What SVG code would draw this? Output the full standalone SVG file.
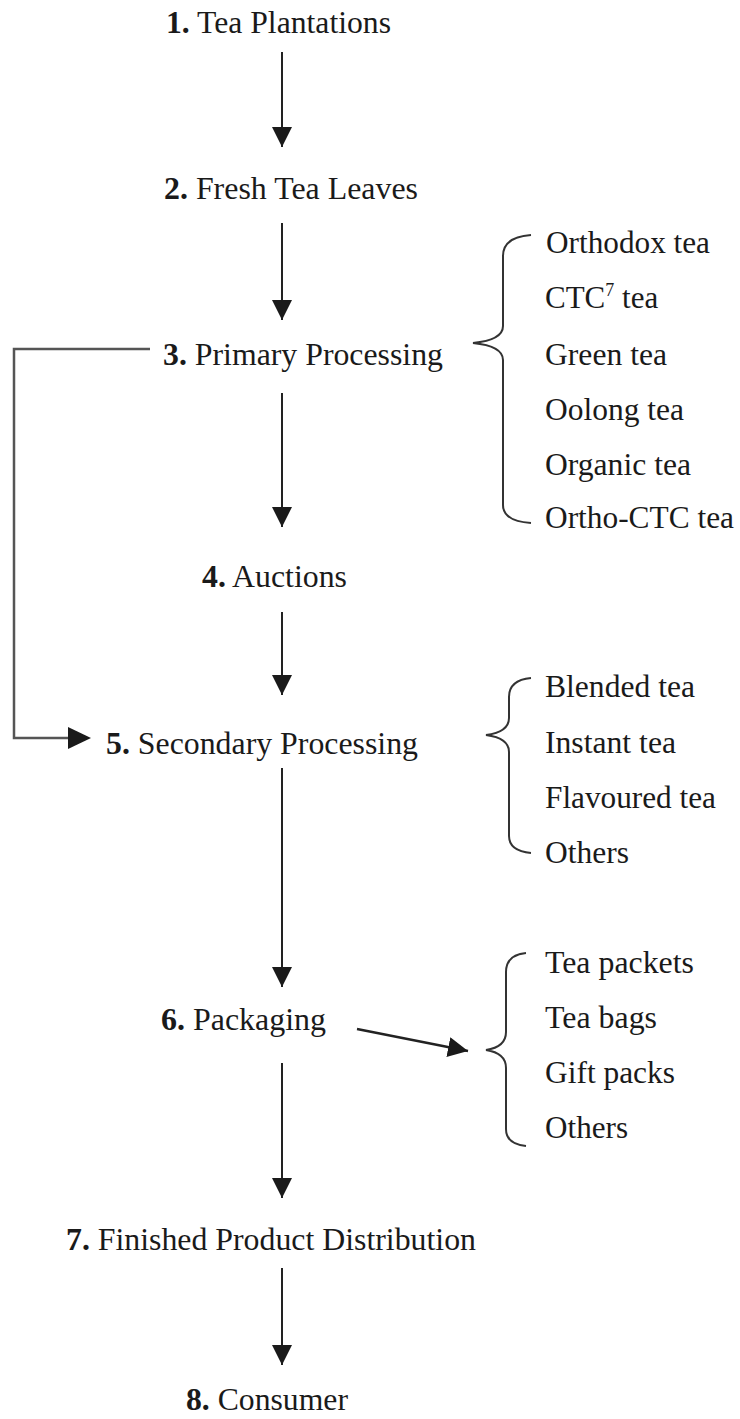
<svg xmlns="http://www.w3.org/2000/svg" width="740" height="1419" viewBox="0 0 740 1419">
<style>
text{font-family:"Liberation Serif","Times New Roman",serif;font-size:31px;fill:#1a1a1a}
.b{font-weight:bold}
.ln{stroke:#222;stroke-width:2;fill:none}
.br{stroke:#333;stroke-width:2;fill:none}
.fb{stroke:#555;stroke-width:2.5;fill:none}
</style>
<defs>
<marker id="ah" viewBox="0 0 20 20" refX="20" refY="10" markerWidth="20" markerHeight="20" markerUnits="userSpaceOnUse" orient="auto">
<path d="M0,0 L20,10 L0,20 Z" fill="#1a1a1a"/>
</marker>
</defs>
<rect width="740" height="1419" fill="#ffffff"/>
<g id="connectors">
<line class="ln" x1="282" y1="52" x2="282" y2="147" marker-end="url(#ah)"/>
<line class="ln" x1="282" y1="223" x2="282" y2="320" marker-end="url(#ah)"/>
<line class="ln" x1="282" y1="393" x2="282" y2="527" marker-end="url(#ah)"/>
<line class="ln" x1="282" y1="612" x2="282" y2="695" marker-end="url(#ah)"/>
<line class="ln" x1="282" y1="768" x2="282" y2="987" marker-end="url(#ah)"/>
<line class="ln" x1="282" y1="1063" x2="282" y2="1198" marker-end="url(#ah)"/>
<line class="ln" x1="282" y1="1268" x2="282" y2="1365" marker-end="url(#ah)"/>
<path class="fb" d="M150,349 L14,349 L14,738 L70,738"/>
<path d="M68,727 L91,738 L68,749 Z" fill="#1a1a1a"/>
<line class="ln" style="stroke-width:2.5" x1="357" y1="1029" x2="468" y2="1051" marker-end="url(#ah)"/>
</g>
<g id="n1"><text x="166" y="33" textLength="225" lengthAdjust="spacingAndGlyphs"><tspan class="b">1.</tspan> Tea Plantations</text></g>
<g id="n2"><text x="164" y="199" textLength="254" lengthAdjust="spacingAndGlyphs"><tspan class="b">2.</tspan> Fresh Tea Leaves</text></g>
<g id="n3"><text x="163" y="365" textLength="280" lengthAdjust="spacingAndGlyphs"><tspan class="b">3.</tspan> Primary Processing</text></g>
<g id="n4"><text x="202" y="587" textLength="145" lengthAdjust="spacingAndGlyphs"><tspan class="b">4.</tspan> Auctions</text></g>
<g id="n5"><text x="106" y="754" textLength="312" lengthAdjust="spacingAndGlyphs"><tspan class="b">5.</tspan> Secondary Processing</text></g>
<g id="n6"><text x="161" y="1030" textLength="165" lengthAdjust="spacingAndGlyphs"><tspan class="b">6.</tspan> Packaging</text></g>
<g id="n7"><text x="66" y="1250" textLength="410" lengthAdjust="spacingAndGlyphs"><tspan class="b">7.</tspan> Finished Product Distribution</text></g>
<g id="n8"><text x="186" y="1410" textLength="162" lengthAdjust="spacingAndGlyphs"><tspan class="b">8.</tspan> Consumer</text></g>
<g id="primary-types">
<path class="br" d="M531,235 Q503,237 503,256 L503,326 Q503,340 473,343 Q503,346 503,360 L503,505 Q503,521 531,523"/>
<text x="546" y="253" textLength="164" lengthAdjust="spacingAndGlyphs">Orthodox tea</text>
<text x="545" y="308">CTC<tspan font-size="18" dy="-12">7</tspan><tspan dy="12"> tea</tspan></text>
<text x="545" y="365" textLength="122" lengthAdjust="spacingAndGlyphs">Green tea</text>
<text x="545" y="420" textLength="139" lengthAdjust="spacingAndGlyphs">Oolong tea</text>
<text x="545" y="475" textLength="146" lengthAdjust="spacingAndGlyphs">Organic tea</text>
<text x="545" y="528" textLength="189" lengthAdjust="spacingAndGlyphs">Ortho-CTC tea</text>
</g>
<g id="secondary-types">
<path class="br" d="M531,678 Q509,680 509,697 L509,718 Q509,732 486,735 Q509,738 509,752 L509,836 Q509,851 531,853"/>
<text x="545" y="697" textLength="150" lengthAdjust="spacingAndGlyphs">Blended tea</text>
<text x="545" y="753" textLength="131" lengthAdjust="spacingAndGlyphs">Instant tea</text>
<text x="545" y="808" textLength="171" lengthAdjust="spacingAndGlyphs">Flavoured tea</text>
<text x="545" y="863" textLength="84" lengthAdjust="spacingAndGlyphs">Others</text>
</g>
<g id="packaging-types">
<path class="br" d="M526,953 Q506,955 506,972 L506,1032 Q506,1047 486,1050 Q506,1053 506,1068 L506,1129 Q506,1144 526,1146"/>
<text x="545" y="973" textLength="149" lengthAdjust="spacingAndGlyphs">Tea packets</text>
<text x="545" y="1028" textLength="112" lengthAdjust="spacingAndGlyphs">Tea bags</text>
<text x="545" y="1083" textLength="130" lengthAdjust="spacingAndGlyphs">Gift packs</text>
<text x="545" y="1138" textLength="83" lengthAdjust="spacingAndGlyphs">Others</text>
</g>
</svg>
